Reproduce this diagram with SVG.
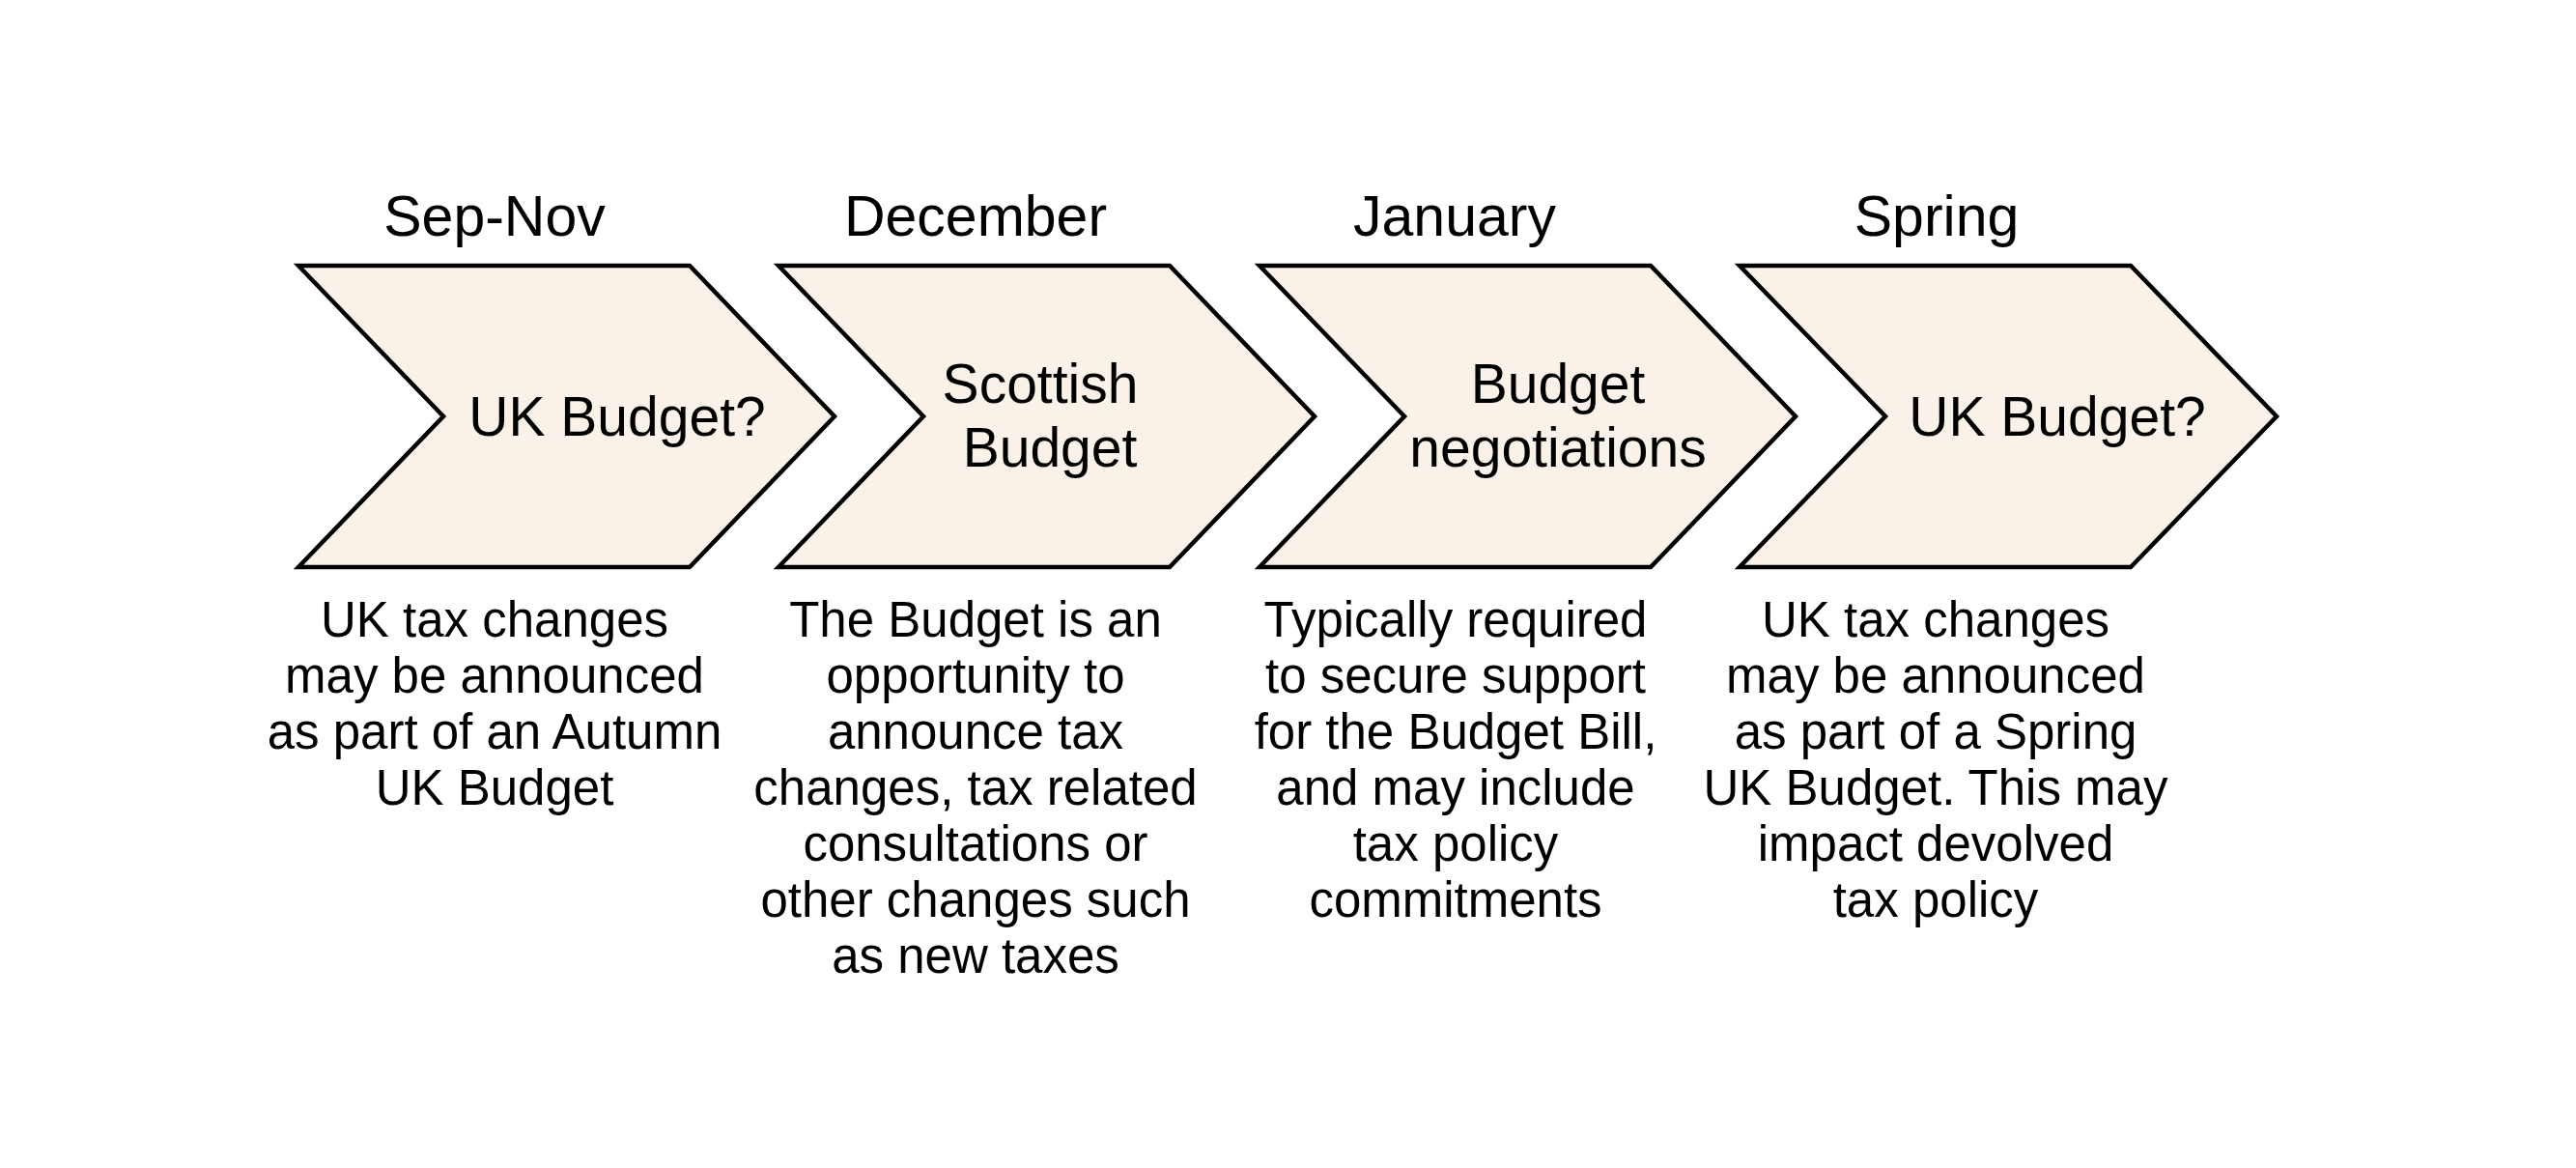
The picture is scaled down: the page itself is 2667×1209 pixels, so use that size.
<svg xmlns="http://www.w3.org/2000/svg" width="2667" height="1209" viewBox="0 0 2667 1209">
<style>
.chev{fill:#FAF2E8;stroke:#000;stroke-width:4.5;stroke-linejoin:miter}
.month{font-family:"Liberation Sans",Arial,sans-serif;font-size:59px;fill:#000;text-anchor:middle}
.lbl{font-family:"Liberation Sans",Arial,sans-serif;font-size:57px;fill:#000;text-anchor:middle}
.body{font-family:"Liberation Sans",Arial,sans-serif;font-size:51px;fill:#000;text-anchor:middle}
</style>
<rect width="2667" height="1209" fill="#fff"/>
<g id="connectors"></g>
<g id="node-sepnov">
<text class="month" x="512" y="244">Sep-Nov</text>
<polygon class="chev" points="309,275 714,275 864,431 714,587 309,587 459,431"/>
<text class="lbl" x="639" y="451">UK Budget?</text>
<text class="body"><tspan x="512" y="659">UK tax changes</tspan><tspan x="512" y="717">may be announced</tspan><tspan x="512" y="775">as part of an Autumn</tspan><tspan x="512" y="833">UK Budget</tspan></text>
</g>
<g id="node-december">
<text class="month" x="1010" y="244">December</text>
<polygon class="chev" points="806,275 1211,275 1361,431 1211,587 806,587 956,431"/>
<text class="lbl"><tspan x="1077" y="417">Scottish</tspan><tspan x="1087" y="483">Budget</tspan></text>
<text class="body"><tspan x="1010" y="659">The Budget is an</tspan><tspan x="1010" y="717">opportunity to</tspan><tspan x="1010" y="775">announce tax</tspan><tspan x="1010" y="833">changes, tax related</tspan><tspan x="1010" y="891">consultations or</tspan><tspan x="1010" y="949">other changes such</tspan><tspan x="1010" y="1007">as new taxes</tspan></text>
</g>
<g id="node-january">
<text class="month" x="1506" y="244">January</text>
<polygon class="chev" points="1304,275 1709,275 1859,431 1709,587 1304,587 1454,431"/>
<text class="lbl"><tspan x="1613" y="417">Budget</tspan><tspan x="1613" y="483">negotiations</tspan></text>
<text class="body"><tspan x="1507" y="659">Typically required</tspan><tspan x="1507" y="717">to secure support</tspan><tspan x="1507" y="775">for the Budget Bill,</tspan><tspan x="1507" y="833">and may include</tspan><tspan x="1507" y="891">tax policy</tspan><tspan x="1507" y="949">commitments</tspan></text>
</g>
<g id="node-spring">
<text class="month" x="2005" y="244">Spring</text>
<polygon class="chev" points="1801,275 2206,275 2357,431 2206,587 1801,587 1952,431"/>
<text class="lbl" x="2130" y="451">UK Budget?</text>
<text class="body"><tspan x="2004" y="659">UK tax changes</tspan><tspan x="2004" y="717">may be announced</tspan><tspan x="2004" y="775">as part of a Spring</tspan><tspan x="2004" y="833">UK Budget. This may</tspan><tspan x="2004" y="891">impact devolved</tspan><tspan x="2004" y="949">tax policy</tspan></text>
</g>
</svg>
